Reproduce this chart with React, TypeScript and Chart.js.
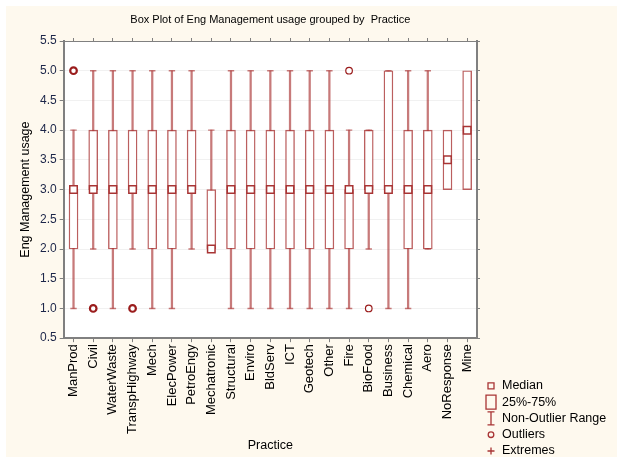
import React, { useEffect, useRef } from 'react';
import { Chart, registerables } from 'chart.js';

Chart.register(...registerables);

const categories = [
  'ManProd', 'Civil', 'WaterWaste', 'TranspHighway', 'Mech', 'ElecPower', 'PetroEngy',
  'Mechatronic', 'Structural', 'Enviro', 'BldServ', 'ICT', 'Geotech', 'Other', 'Fire',
  'BioFood', 'Business', 'Chemical', 'Aero', 'NoResponse', 'Mine',
];
const whiskerLow: (number | null)[] = [1, 2, 1, 2, 1, 1, 2, 2, 1, 1, 1, 1, 1, 1, 1, 2, 1, 1, 2, null, null];
const whiskerHigh: (number | null)[] = [4, 5, 5, 5, 5, 5, 5, 4, 5, 5, 5, 5, 5, 5, 4, 4, 5, 5, 5, null, null];
const q1 = [2, 3, 2, 3, 2, 2, 3, 2, 2, 2, 2, 2, 2, 2, 2, 3, 3, 2, 2, 3, 3];
const q3 = [3, 4, 4, 4, 4, 4, 4, 3, 4, 4, 4, 4, 4, 4, 3, 4, 5, 4, 4, 4, 5];
const medians = [3, 3, 3, 3, 3, 3, 3, 2, 3, 3, 3, 3, 3, 3, 3, 3, 3, 3, 3, 3.5, 4];
const outliers: (number | null)[] = [5, 1, null, 1, null, null, null, null, null, null, null, null, null, null, 5, 1, null, null, null, null, null];
const outlierWeights = [2.2, 2.2, 1, 2.2, 1, 1, 1, 1, 1, 1, 1, 1, 1, 1, 1.2, 1.2, 1, 1, 1, 1, 1];
const yTicks = [0.5, 1.0, 1.5, 2.0, 2.5, 3.0, 3.5, 4.0, 4.5, 5.0, 5.5];
const legendLabels = ['Median', '25%-75%', 'Non-Outlier Range', 'Outliers', 'Extremes'];
const legendKinds = ['median', 'box', 'range', 'outlier', 'extreme'];

const FONT = "'Liberation Sans', Arial, sans-serif";
const RED = '#a83434';
const WHISKER = 'rgba(178, 70, 70, 0.72)';
const BOXLINE = 'rgba(168, 50, 50, 0.78)';
const AXIS = '#808080';

function drawSymbol(g: CanvasRenderingContext2D, kind: string, cx: number, cy: number) {
  g.save();
  g.strokeStyle = RED;
  g.lineWidth = 1.3;
  g.beginPath();
  if (kind === 'median') {
    g.rect(cx - 3, cy - 3, 6, 6);
  } else if (kind === 'box') {
    g.rect(cx - 5, cy - 7, 10, 14);
  } else if (kind === 'range') {
    g.moveTo(cx, cy - 6.5); g.lineTo(cx, cy + 6.5);
    g.moveTo(cx - 3.5, cy - 6.5); g.lineTo(cx + 3.5, cy - 6.5);
    g.moveTo(cx - 3.5, cy + 6.5); g.lineTo(cx + 3.5, cy + 6.5);
  } else if (kind === 'outlier') {
    g.arc(cx, cy, 2.8, 0, Math.PI * 2);
  } else {
    g.moveTo(cx, cy - 3.5); g.lineTo(cx, cy + 3.5);
    g.moveTo(cx - 3.5, cy); g.lineTo(cx + 3.5, cy);
  }
  g.stroke();
  g.restore();
}

const decorPlugin = {
  id: 'boxDecor',
  beforeDraw(chart: any) {
    const { ctx, chartArea } = chart;
    ctx.save();
    ctx.fillStyle = '#ffffff';
    ctx.fillRect(chartArea.left, chartArea.top, chartArea.right - chartArea.left, chartArea.bottom - chartArea.top);
    ctx.restore();
  },
  afterDraw(chart: any) {
    const { ctx, chartArea } = chart;
    ctx.save();
    ctx.fillStyle = '#000';
    ctx.font = `11px ${FONT}`;
    ctx.textAlign = 'center';
    ctx.textBaseline = 'middle';
    ctx.fillText('Box Plot of Eng Management usage grouped by  Practice', (chartArea.left + chartArea.right) / 2, 20);

    // legend
    const sx = chartArea.right + 14;
    const tx = sx + 11;
    const rowH = 16.3;
    const lastY = chart.height - 6;
    ctx.font = `12.5px ${FONT}`;
    ctx.textAlign = 'left';
    legendLabels.forEach((t, i) => {
      const y = lastY - (legendLabels.length - 1 - i) * rowH;
      drawSymbol(ctx, legendKinds[i], sx, y);
      ctx.fillStyle = '#000';
      ctx.fillText(t, tx, y);
    });
    ctx.restore();
  },
};

export default function App() {
  const ref = useRef<HTMLCanvasElement>(null);
  useEffect(() => {
    const chart = new Chart(ref.current!, {
      type: 'bar',
      data: {
        labels: categories,
        datasets: [
          {
            type: 'bar',
            label: 'whisker',
            data: categories.map((_, i) => (whiskerLow[i] == null ? null : [whiskerLow[i], whiskerHigh[i]])) as any,
            backgroundColor: WHISKER,
            barThickness: 1.6,
            grouped: false,
            order: 6,
          } as any,
          {
            type: 'line',
            label: 'capLow',
            data: whiskerLow as any,
            showLine: false,
            pointStyle: 'line',
            pointRadius: 3.2,
            pointBorderColor: WHISKER,
            pointBorderWidth: 1.4,
            order: 5,
          } as any,
          {
            type: 'line',
            label: 'capHigh',
            data: whiskerHigh as any,
            showLine: false,
            pointStyle: 'line',
            pointRadius: 3.2,
            pointBorderColor: WHISKER,
            pointBorderWidth: 1.4,
            order: 5,
          } as any,
          {
            type: 'bar',
            label: 'box',
            data: q1.map((v, i) => [v, q3[i]]) as any,
            backgroundColor: '#ffffff',
            borderColor: BOXLINE,
            borderWidth: 1.4,
            borderSkipped: false,
            barThickness: 9,
            grouped: false,
            order: 3,
          } as any,
          {
            type: 'line',
            label: 'median',
            data: medians,
            showLine: false,
            pointStyle: 'rect',
            pointRadius: 5.3,
            pointBackgroundColor: '#ffffff',
            pointBorderColor: RED,
            pointBorderWidth: 1.5,
            order: 2,
          } as any,
          {
            type: 'line',
            label: 'outliers',
            data: outliers as any,
            showLine: false,
            pointStyle: 'circle',
            pointRadius: 3.3,
            pointBackgroundColor: '#ffffff',
            pointBorderColor: '#9a1c1c',
            pointBorderWidth: outlierWeights,
            order: 1,
          } as any,
        ],
      },
      options: {
        responsive: false,
        animation: false,
        devicePixelRatio: 1,
        layout: { padding: { top: 38, left: 18, right: 137, bottom: 4 } },
        plugins: {
          title: { display: false },
          tooltip: { enabled: false },
          legend: { display: false },
        },
        scales: {
          x: {
            type: 'category',
            offset: true,
            grid: { display: true, drawOnChartArea: false, offset: false, tickLength: 4, tickColor: AXIS },
            border: { color: AXIS, width: 2 },
            ticks: {
              autoSkip: false,
              minRotation: 90,
              maxRotation: 90,
              color: '#000',
              padding: 2,
              font: { family: FONT, size: 13 },
            },
            title: { display: true, text: 'Practice', color: '#000', font: { family: FONT, size: 12.5 }, padding: { top: 2, bottom: 0 } },
          },
          x2: {
            type: 'category',
            position: 'top',
            offset: true,
            grid: { display: true, drawOnChartArea: false, offset: false, tickLength: 3, tickColor: AXIS },
            border: { color: AXIS, width: 1 },
            ticks: { display: false },
          },
          y: {
            min: yTicks[0],
            max: yTicks[yTicks.length - 1],
            afterBuildTicks: (s: any) => { s.ticks = yTicks.map((v) => ({ value: v })); },
            ticks: {
              color: '#1b2548',
              padding: 3,
              font: { family: FONT, size: 12 },
              callback: (v: any) => Number(v).toFixed(1),
            },
            grid: { color: '#f1f1f1', tickColor: AXIS, tickLength: 4 },
            border: { color: AXIS, width: 2 },
            title: { display: true, text: 'Eng Management usage', color: '#000', font: { family: FONT, size: 12.5 }, padding: { top: 0, bottom: 4 } },
          },
          y2: {
            position: 'right',
            min: yTicks[0],
            max: yTicks[yTicks.length - 1],
            afterBuildTicks: (s: any) => { s.ticks = yTicks.map((v) => ({ value: v })); },
            ticks: { display: false },
            grid: { drawOnChartArea: false, tickColor: AXIS, tickLength: 3 },
            border: { color: AXIS, width: 2 },
          },
        },
      } as any,
      plugins: [decorPlugin],
    });
    return () => chart.destroy();
  }, []);

  return (
    <div style={{ position: 'fixed', left: 0, top: 0, width: 617, height: 457, background: '#ffffff' }}>
      <div style={{ position: 'absolute', left: 6, top: 6, right: 0, bottom: 0, background: '#fef9ee' }} />
      <canvas ref={ref} width={617} height={457} style={{ position: 'absolute', left: 0, top: 0, width: 617, height: 457 }} />
    </div>
  );
}
